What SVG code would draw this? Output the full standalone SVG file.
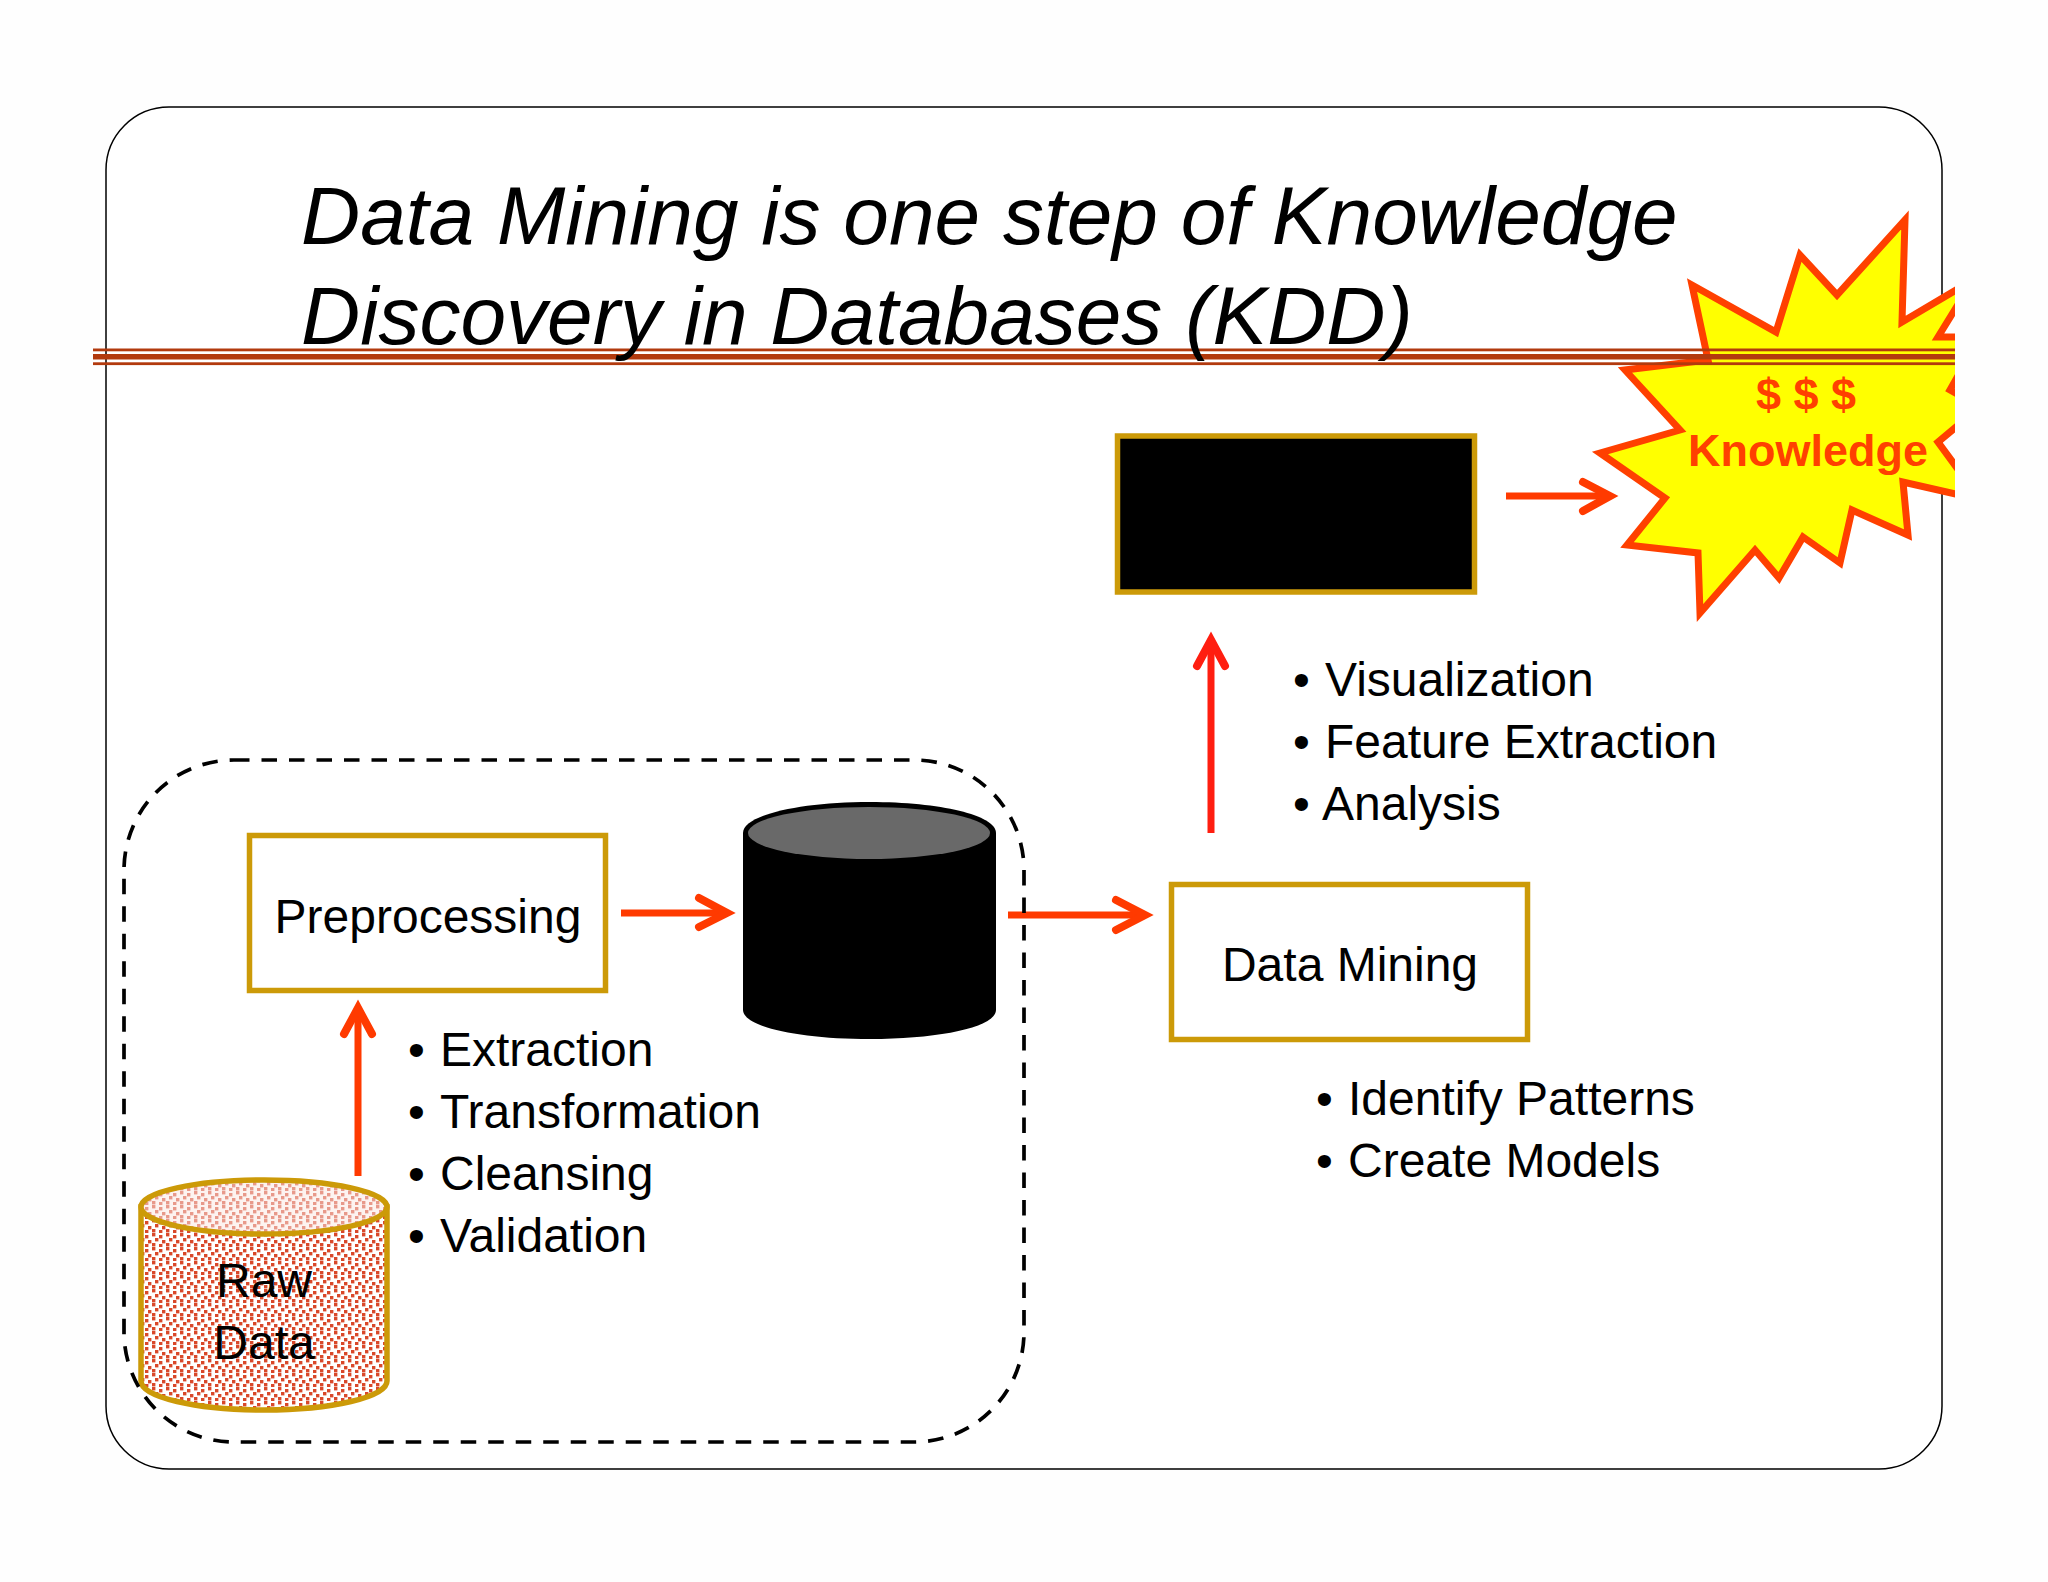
<svg xmlns="http://www.w3.org/2000/svg" width="2048" height="1582" viewBox="0 0 2048 1582">
<style>
text{font-family:"Liberation Sans",Arial,sans-serif;fill:#000}
.t{font-size:82px;font-style:italic}
.l{font-size:48px}
.m{text-anchor:middle}
.k{font-size:45px;font-weight:bold;fill:#ff4000;text-anchor:middle}
.box{fill:#fff;stroke:#cc9a08;stroke-width:5.5}
.arr{fill:none;stroke:#ff3a00;stroke-width:7;stroke-linecap:butt}
.hd{fill:none;stroke:#ff3a00;stroke-width:8;stroke-linecap:round;stroke-linejoin:miter}
.red{stroke:#ff1e10}
.st{fill:#b23a0e}
</style>
<defs>
<pattern id="dots" width="14" height="14" patternUnits="userSpaceOnUse" x="138" y="1177">
<rect width="14" height="14" fill="#fff"/>
<g fill="#d9482a"><rect x="0" y="0" width="3.4" height="3.4"/><rect x="7" y="2" width="3.4" height="3.4"/><rect x="3" y="5" width="3.4" height="3.4"/><rect x="10" y="7" width="3.4" height="3.4"/><rect x="0" y="10" width="3.4" height="3.4"/><rect x="7" y="11" width="3.4" height="3.4"/></g>
</pattern>
<pattern id="dotsL" width="14" height="14" patternUnits="userSpaceOnUse" x="138" y="1177">
<rect width="14" height="14" fill="#fdf3f0"/>
<g fill="#e8998a"><rect x="0" y="0" width="3.4" height="3.4"/><rect x="7" y="2" width="3.4" height="3.4"/><rect x="3" y="5" width="3.4" height="3.4"/><rect x="10" y="7" width="3.4" height="3.4"/><rect x="0" y="10" width="3.4" height="3.4"/><rect x="7" y="11" width="3.4" height="3.4"/></g>
</pattern>
<clipPath id="cl"><rect x="0" y="0" width="1955" height="1582"/></clipPath>
</defs>
<rect width="2048" height="1582" fill="#fefefe"/>
<g id="frame"><rect x="106" y="107" width="1836" height="1362" rx="63" ry="63" fill="#fff" stroke="#000" stroke-width="1.5"/></g>
<g id="burst" clip-path="url(#cl)">
<polygon fill="#ffff00" stroke="#ff4000" stroke-width="7" stroke-miterlimit="10" points="1692,285 1776,332 1800,255 1837,295 1905,220 1902,322 1973,280 1938,337 1980,337 1950,390 1980,407 1938,442 1973,490 1973,498 1903,482 1908,535 1852,510 1840,563 1803,537 1779,578 1755,550 1700,613 1698,553 1627,545 1665,498 1600,453 1680,430 1625,370 1708,360"/>
<text class="k" x="1806" y="410">$ $ $</text>
<text class="k" x="1808" y="466">Knowledge</text>
</g>
<g id="rules" clip-path="url(#cl)">
<rect class="st" x="93" y="348.5" width="1862" height="2.8"/>
<rect class="st" x="93" y="354" width="1862" height="5.5"/>
<rect class="st" x="93" y="362.3" width="1862" height="2.8"/>
</g>
<g id="title">
<text class="t" x="301" y="244">Data Mining is one step of Knowledge</text>
<text class="t" x="301" y="344">Discovery in Databases (KDD)</text>
</g>
<g id="raw-data">
<path d="M141 1207V1381C141 1397 196 1410 264 1410S387 1397 387 1381V1207Z" fill="url(#dots)" stroke="#cc9a08" stroke-width="5.5"/>
<ellipse cx="264" cy="1207" rx="123" ry="27" fill="url(#dotsL)" stroke="#cc9a08" stroke-width="5.5"/>
<text class="l m" x="264" y="1297">Raw</text>
<text class="l m" x="264" y="1359">Data</text>
</g>
<g id="preprocessing">
<rect class="box" x="249.500" y="835.500" width="356" height="155"/>
<text class="l m" x="428" y="933">Preprocessing</text>
</g>
<g id="data-store">
<path d="M743 833V1010C743 1027 800 1039 870 1039S996 1027 996 1010V833C996 815 940 802 870 802S743 815 743 833Z" fill="#000"/>
<ellipse cx="869" cy="833" rx="121" ry="26" fill="#696969"/>
</g>
<g id="data-mining">
<rect class="box" x="1171.500" y="884.500" width="356" height="155"/>
<text class="l m" x="1350" y="981">Data Mining</text>
</g>
<g id="hidden-box">
<rect x="1117.500" y="436" width="357" height="156" fill="#000" stroke="#cc9a08" stroke-width="5.500"/>
</g>
<g id="connectors">
<path class="arr" d="M621 913H726"/><path class="hd" d="M699 898L727 913L699 927"/>
<path class="arr" d="M1008 915H1144"/><path class="hd" d="M1116 900L1145 915L1116 930"/>
<path class="arr" d="M1506 496H1609"/><path class="hd" d="M1583 482L1610 496L1583 511"/>
<path class="arr" d="M358 1176V1010"/><path class="hd" d="M344 1034L358 1008L372 1034"/>
<path class="arr red" d="M1211 833V642"/><path class="hd red" d="M1197 666L1211 640L1225 666"/>
</g>
<g id="dashed-group">
<rect x="124" y="760" width="900" height="682" rx="110" ry="110" fill="none" stroke="#000" stroke-width="3.700" stroke-dasharray="15.500 12"/>
</g>
<g id="labels">
<text class="l"><tspan x="408" y="1066">•</tspan><tspan x="440" y="1066">Extraction</tspan></text>
<text class="l"><tspan x="408" y="1128">•</tspan><tspan x="440" y="1128">Transformation</tspan></text>
<text class="l"><tspan x="408" y="1190">•</tspan><tspan x="440" y="1190">Cleansing</tspan></text>
<text class="l"><tspan x="408" y="1252">•</tspan><tspan x="440" y="1252">Validation</tspan></text>
<text class="l"><tspan x="1293" y="696">•</tspan><tspan x="1325" y="696">Visualization</tspan></text>
<text class="l"><tspan x="1293" y="758">•</tspan><tspan x="1325" y="758">Feature Extraction</tspan></text>
<text class="l"><tspan x="1293" y="820">•</tspan><tspan x="1322" y="820">Analysis</tspan></text>
<text class="l"><tspan x="1316" y="1115">•</tspan><tspan x="1348" y="1115">Identify Patterns</tspan></text>
<text class="l"><tspan x="1316" y="1177">•</tspan><tspan x="1348" y="1177">Create Models</tspan></text>
</g>
</svg>
